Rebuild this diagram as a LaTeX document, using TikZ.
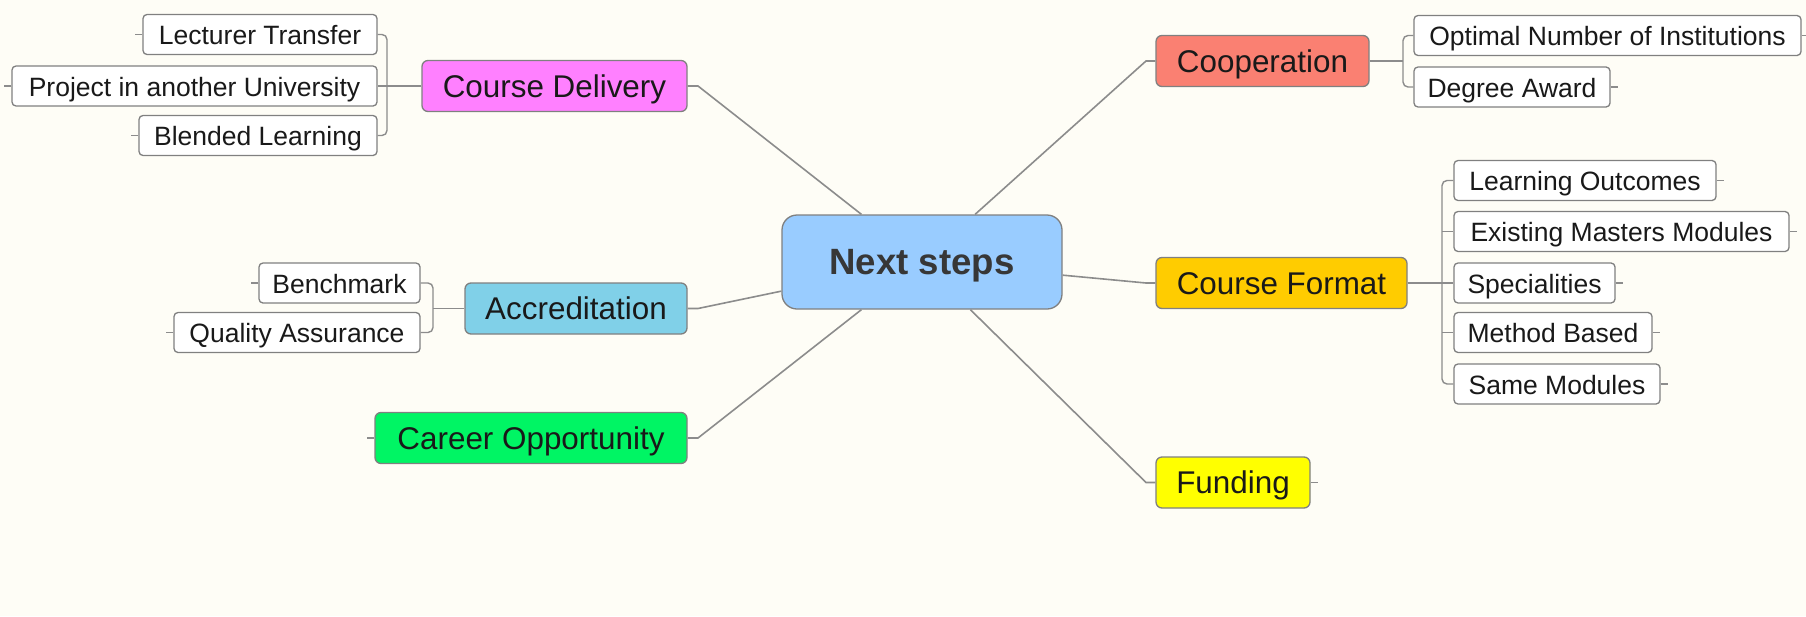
\documentclass[tikz,border=0pt]{standalone}
\usepackage{fontspec}
\setmainfont{Liberation Sans}
\definecolor{bgc}{RGB}{254,253,246}
\definecolor{bordc}{RGB}{128,128,128}
\definecolor{linec}{RGB}{140,140,140}
\definecolor{nsfill}{RGB}{153,204,255}
\definecolor{cdfill}{RGB}{255,128,255}
\definecolor{coopfill}{RGB}{250,128,114}
\definecolor{accfill}{RGB}{128,208,232}
\definecolor{cffill}{RGB}{255,204,0}
\definecolor{cofill}{RGB}{0,245,100}
\definecolor{fufill}{RGB}{255,255,0}
\definecolor{nstext}{RGB}{55,55,55}
\newcommand{\leaffont}{\fontsize{26.5}{30}\selectfont}
\newcommand{\topicfont}{\fontsize{31.4}{36}\selectfont}
\newcommand{\centerfont}{\fontsize{36.6}{42}\selectfont\bfseries}
\tikzset{
  box/.style={draw=bordc, line width=1.3, inner xsep=0, inner ysep=0, align=center},
  leaf/.style={box, fill=white, rounded corners=4, minimum height=40, text height=22, text depth=2, font=\leaffont, text=black!90},
  topic/.style={box, rounded corners=6, minimum height=51, text height=24, text depth=2, font=\topicfont, text=black!90},
  hub/.style={box, rounded corners=15, fill=nsfill, minimum width=280, minimum height=94, text height=28, text depth=4, font=\centerfont, text=nstext},
  conn/.style={draw=linec, line width=1.4},
  bracket/.style={conn, rounded corners=5},
  spoke/.style={draw=linec, line width=1.6},
}
\begin{document}
\begin{tikzpicture}[x=1pt, y=-1pt]
\fill[bgc] (0,0) rectangle (1806,616);
\useasboundingbox (0,0) rectangle (1806,616);

% center
\node[hub] (ns) at (922,262) {Next steps};

% main topics
\node[topic, fill=cdfill, minimum width=265] (cd) at (554.5,86) {Course Delivery};
\node[topic, fill=accfill, minimum width=222] (acc) at (576,308.5) {Accreditation};
\node[topic, fill=cofill, minimum width=312] (co) at (531,438) {Career Opportunity};
\node[topic, fill=coopfill, minimum width=213] (coop) at (1262.5,61) {Cooperation};
\node[topic, fill=cffill, minimum width=251] (cf) at (1281.5,283) {Course Format};
\node[topic, fill=fufill, minimum width=154] (fu) at (1233,482.5) {Funding};

% leaves: course delivery
\node[leaf, minimum width=234] (lt) at (260,34.5) {Lecturer Transfer};
\node[leaf, minimum width=365] (pu) at (194.5,86) {Project in another University};
\node[leaf, minimum width=238] (bl) at (258,135.5) {Blended Learning};
% leaves: accreditation
\node[leaf, minimum width=161] (bm) at (339.5,283) {Benchmark};
\node[leaf, minimum width=246] (qa) at (297,332.5) {Quality Assurance};
% leaves: cooperation
\node[leaf, minimum width=387] (oni) at (1607.5,35.5) {Optimal Number of Institutions};
\node[leaf, minimum width=196] (da) at (1512,87) {Degree Award};
% leaves: course format
\node[leaf, minimum width=262] (lo) at (1585,180.5) {Learning Outcomes};
\node[leaf, minimum width=335] (emm) at (1621.5,231.5) {Existing Masters Modules};
\node[leaf, minimum width=161] (sp) at (1534.5,283) {Specialities};
\node[leaf, minimum width=198] (mb) at (1553,332.5) {Method Based};
\node[leaf, minimum width=206] (sm) at (1557,384) {Same Modules};

% spoke bend points
\coordinate (cdc) at (698,86);
\coordinate (accc) at (698,308.5);
\coordinate (coc) at (698,438);
\coordinate (coopc) at (1146,61);
\coordinate (cfc) at (1146,283);
\coordinate (fuc) at (1146,482.5);

\draw[spoke] (ns) -- (cdc) -- (cd.east);
\draw[spoke] (ns) -- (accc) -- (acc.east);
\draw[spoke] (ns) -- (coc) -- (co.east);
\draw[spoke] (ns) -- (coopc) -- (coop.west);
\draw[spoke] (ns) -- (cfc) -- (cf.west);
\draw[spoke] (ns) -- (fuc) -- (fu.west);

% bracket junctions
\coordinate (cdj) at (387,86);
\coordinate (accj) at (433,308.5);
\coordinate (coopj) at (1403,61);
\coordinate (cfj) at (1442,283);

% course delivery bracket
\draw[bracket] (lt.east) -| (cdj) |- (bl.east);
\draw[conn] (cd.west) -- (pu.east);
% accreditation bracket
\draw[bracket] (bm.east) -| (accj) |- (qa.east);
\draw[conn] (acc.west) -- (accj);
% cooperation bracket
\draw[bracket] (oni.west) -| (coopj) |- (da.west);
\draw[conn] (coop.east) -- (coopj);
% course format bracket
\draw[bracket] (lo.west) -| (cfj) |- (sm.west);
\draw[conn] (cf.east) -- (sp.west);
\draw[conn] (cfj |- emm.west) -- (emm.west);
\draw[conn] (cfj |- mb.west) -- (mb.west);

% collapse stubs
\foreach \n in {lt,pu,bl,bm,qa,co} \draw[conn] (\n.west) -- ++(-7,0);
\foreach \n in {oni,da,lo,emm,sp,mb,sm,fu} \draw[conn] (\n.east) -- ++(7,0);
\end{tikzpicture}
\end{document}
